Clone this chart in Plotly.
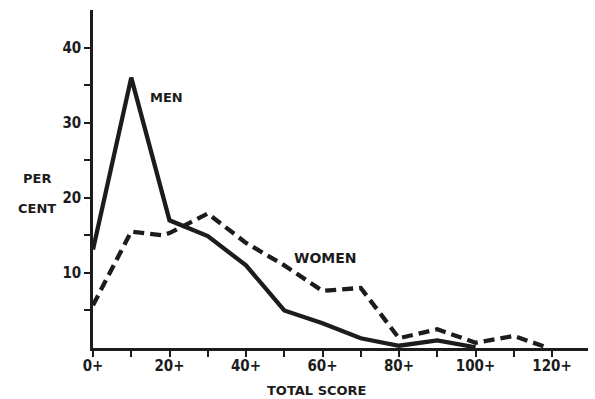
import plotly.graph_objects as go

scores = [0, 10, 20, 30, 40, 50, 60, 70, 80, 90, 100]
men = [13.1, 36.0, 17.0, 14.9, 11.0, 5.0, 3.3, 1.3, 0.3, 1.0, 0.1]
women_scores = [0, 10, 18, 20, 30, 40, 50, 60, 70, 80, 90, 100, 110, 118]
women = [5.7, 15.5, 15.0, 15.3, 17.9, 14.0, 11.0, 7.6, 8.0, 1.3, 2.5, 0.7, 1.6, 0.2]

x_ticks = [0, 10, 20, 30, 40, 50, 60, 70, 80, 90, 100, 110, 120]
x_labels = ["0+", "", "20+", "", "40+", "", "60+", "", "80+", "", "100+", "", "120+"]
y_ticks = [5, 10, 15, 20, 25, 30, 35, 40]
y_labels = ["", "10", "", "20", "", "30", "", "40"]

FONT = "DejaVu Sans Condensed, DejaVu Sans, sans-serif"
INK = "#1c1c1c"

W, H = 595, 399
L, R, T, B = 93, 7, 10, 51
pw, ph = W - L - R, H - T - B


def px(xp):
    return (xp - L) / pw


def py(yp):
    return (H - B - yp) / ph


fig = go.Figure()
fig.add_trace(go.Scatter(x=scores, y=men, mode="lines",
                         line=dict(color=INK, width=4.3), name="MEN", showlegend=False))
fig.add_trace(go.Scatter(x=women_scores, y=women, mode="lines",
                         line=dict(color=INK, width=4.3, dash="11px,6px"), name="WOMEN",
                         showlegend=False))

tick_font = dict(family=FONT, size=15, color=INK, weight="bold")
fig.update_layout(
    width=W, height=H,
    margin=dict(l=L, r=R, t=T, b=B),
    paper_bgcolor="white", plot_bgcolor="white",
    font=dict(family=FONT, size=14, color=INK, weight="bold"),
    xaxis=dict(range=[0, 129.4], showgrid=False, zeroline=False, showline=True,
               linecolor=INK, linewidth=2.5, ticks="outside", ticklen=6, tickwidth=2,
               tickcolor=INK, tickvals=x_ticks, ticktext=x_labels, tickfont=tick_font,
               ticklabelstandoff=-4),
    yaxis=dict(range=[0, 45], showgrid=False, zeroline=False, showline=True,
               linecolor=INK, linewidth=2.5, ticks="outside", ticklen=6, tickwidth=2,
               tickcolor=INK, tickvals=y_ticks, ticktext=y_labels, tickfont=tick_font),
)

ann_font = dict(family="DejaVu Sans, sans-serif", size=13, color=INK, weight="bold")
fig.add_annotation(text="MEN", x=px(148), y=py(97), xref="paper", yref="paper",
                   showarrow=False, xanchor="left", yanchor="middle", font=ann_font)
fig.add_annotation(text="WOMEN", x=px(292), y=py(258), xref="paper", yref="paper",
                   showarrow=False, xanchor="left", yanchor="middle",
                   font=dict(ann_font, size=14))
fig.add_annotation(text="PER", x=px(37), y=py(178), xref="paper", yref="paper",
                   showarrow=False, font=ann_font, xanchor="center", yanchor="middle")
fig.add_annotation(text="CENT", x=px(37), y=py(208), xref="paper", yref="paper",
                   showarrow=False, font=ann_font, xanchor="center", yanchor="middle")
fig.add_annotation(text="TOTAL SCORE", x=px(317), y=py(390), xref="paper", yref="paper",
                   showarrow=False, font=ann_font, xanchor="center", yanchor="middle")

fig.write_html("out.html", config={"displayModeBar": False},
               post_script="document.body.style.margin='0';")
